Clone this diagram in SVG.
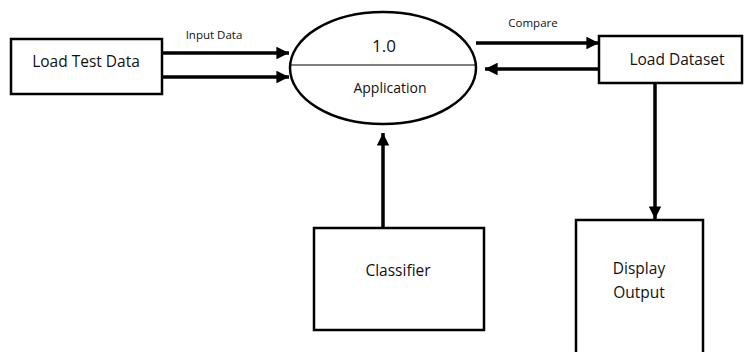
<svg xmlns="http://www.w3.org/2000/svg" width="744" height="352" viewBox="0 0 744 352">
<style>
.box{fill:#fff;stroke:#000;stroke-width:2.5}
.t{font-family:"Open Sans","Noto Sans",sans-serif;font-size:15.5px;fill:#111;text-anchor:middle}
.s{font-family:"Open Sans","Noto Sans",sans-serif;font-size:11.5px;fill:#111;text-anchor:middle}
.c{stroke:#000;stroke-width:3.5;fill:none;marker-end:url(#ah)}
</style>
<defs>
<marker id="ah" viewBox="0 0 10 10" refX="10" refY="5" markerWidth="3.6" markerHeight="3.6" orient="auto" markerUnits="strokeWidth">
<path d="M0,0 L10,5 L0,10 Z" fill="#000"/>
</marker>
</defs>
<rect width="744" height="352" fill="#fff"/>
<g id="connectors">
<line class="c" x1="162" y1="53" x2="289" y2="53"/>
<line class="c" x1="162" y1="77" x2="289" y2="77"/>
<line class="c" x1="476" y1="43" x2="599" y2="43"/>
<line class="c" x1="599" y1="69" x2="485" y2="69"/>
<line class="c" x1="655" y1="83" x2="655" y2="219"/>
<line class="c" x1="383" y1="228" x2="383" y2="133"/>
<text class="s" x="214" y="39">Input Data</text>
<text class="s" x="533" y="27">Compare</text>
</g>
<g id="load-test-data">
<rect class="box" x="11" y="39" width="151" height="55"/>
<text class="t" x="86" y="67">Load Test Data</text>
</g>
<g id="application">
<ellipse cx="383" cy="68" rx="93" ry="56" fill="#fff" stroke="#000" stroke-width="2.5"/>
<line x1="290" y1="65" x2="476" y2="65" stroke="#000" stroke-width="1"/>
<text class="t" x="384" y="52" style="font-size:17px">1.0</text>
<text class="t" x="390" y="93" style="font-size:14px">Application</text>
</g>
<g id="load-dataset">
<rect class="box" x="599" y="36" width="143" height="47"/>
<text class="t" x="677" y="65">Load Dataset</text>
</g>
<g id="classifier">
<rect class="box" x="314" y="228" width="170" height="102"/>
<text class="t" x="398" y="276">Classifier</text>
</g>
<g id="display-output">
<rect class="box" x="576" y="220" width="127" height="150"/>
<text class="t" x="639" y="274">Display</text>
<text class="t" x="639" y="298">Output</text>
</g>
</svg>
